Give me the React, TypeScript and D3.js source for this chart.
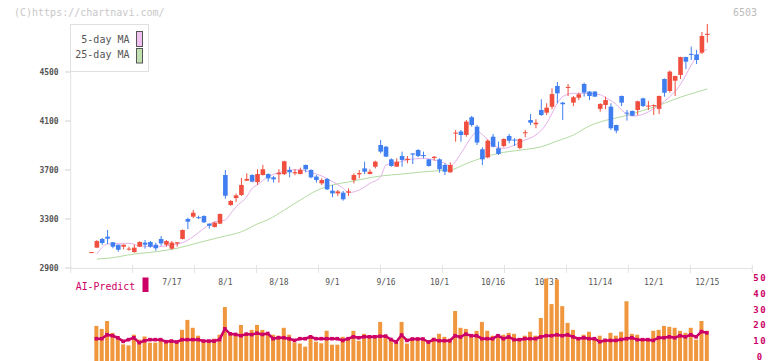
import * as d3 from "d3";

// candles, one per trading day: [open, high, low, close]
const ohlc: [number, number, number, number][] = [
  [3026, 3030, 3026, 3030],
  [3066, 3128, 3066, 3120], [3137, 3145, 3090, 3104], [3156, 3210, 3096, 3139], [3110, 3112, 3061, 3074],
  [3090, 3092, 3033, 3049], [3074, 3092, 3052, 3090], [3052, 3074, 3041, 3058], [3030, 3090, 3025, 3066],
  [3074, 3118, 3072, 3112], [3107, 3128, 3058, 3090], [3112, 3120, 3066, 3074], [3090, 3107, 3041, 3061],
  [3137, 3161, 3082, 3101], [3090, 3128, 3074, 3120], [3058, 3120, 3050, 3107], [3100, 3112, 3074, 3110],
  [3137, 3215, 3133, 3210], [3300, 3311, 3218, 3278], [3319, 3373, 3306, 3351], [3315, 3327, 3300, 3308],
  [3324, 3330, 3268, 3273], [3262, 3264, 3221, 3245], [3235, 3278, 3230, 3270], [3262, 3345, 3260, 3341],
  [3659, 3700, 3466, 3490], [3414, 3455, 3408, 3447], [3471, 3507, 3440, 3493], [3496, 3635, 3488, 3578],
  [3613, 3673, 3610, 3627], [3659, 3665, 3600, 3605], [3601, 3706, 3578, 3667], [3659, 3741, 3655, 3706],
  [3667, 3673, 3605, 3632], [3640, 3651, 3597, 3624], [3665, 3706, 3597, 3678], [3667, 3776, 3659, 3771],
  [3700, 3727, 3640, 3681], [3673, 3708, 3657, 3683], [3667, 3719, 3665, 3700], [3741, 3745, 3681, 3706],
  [3700, 3706, 3632, 3640], [3646, 3659, 3597, 3618], [3591, 3632, 3578, 3618], [3627, 3635, 3537, 3542],
  [3531, 3578, 3477, 3509], [3509, 3537, 3488, 3525], [3515, 3529, 3450, 3461], [3515, 3550, 3488, 3526],
  [3618, 3673, 3591, 3659], [3665, 3700, 3632, 3675], [3713, 3768, 3667, 3686], [3667, 3706, 3665, 3686],
  [3727, 3776, 3713, 3768], [3904, 3945, 3836, 3850], [3890, 3896, 3805, 3809], [3787, 3795, 3727, 3733],
  [3727, 3795, 3727, 3768], [3814, 3850, 3727, 3782], [3782, 3814, 3755, 3792], [3835, 3838, 3749, 3826],
  [3863, 3870, 3805, 3814], [3822, 3850, 3795, 3813], [3787, 3790, 3727, 3733], [3798, 3814, 3776, 3808],
  [3787, 3795, 3678, 3706], [3741, 3755, 3659, 3686], [3681, 3763, 3678, 3741], [3998, 4027, 3931, 4005],
  [4014, 4027, 3931, 3986], [3986, 4108, 3971, 4095], [4131, 4141, 4054, 4067], [4054, 4067, 3904, 3924],
  [3869, 3885, 3741, 3787], [3803, 3951, 3795, 3939], [3972, 3994, 3885, 3890], [3877, 3931, 3822, 3831],
  [3896, 3959, 3885, 3953], [3978, 3994, 3918, 3939], [3948, 3959, 3896, 3941], [3880, 3959, 3869, 3953],
  [4000, 4027, 3967, 4008], [4108, 4157, 4067, 4086], [4073, 4114, 4041, 4086], [4190, 4277, 4141, 4149],
  [4168, 4245, 4149, 4209], [4216, 4367, 4196, 4320], [4386, 4418, 4245, 4326], [4250, 4255, 4108, 4237],
  [4370, 4402, 4304, 4378], [4250, 4304, 4222, 4294], [4290, 4332, 4271, 4318], [4402, 4413, 4299, 4332],
  [4340, 4345, 4271, 4304], [4340, 4345, 4296, 4299], [4199, 4245, 4176, 4239], [4231, 4299, 4196, 4271],
  [4217, 4245, 4027, 4041], [4067, 4070, 4000, 4021], [4304, 4308, 4222, 4250], [4168, 4190, 4103, 4160],
  [4182, 4185, 4141, 4143], [4190, 4266, 4149, 4261], [4285, 4290, 4215, 4222], [4218, 4263, 4190, 4226],
  [4222, 4235, 4149, 4230], [4199, 4308, 4157, 4304], [4443, 4447, 4299, 4331], [4345, 4512, 4331, 4503],
  [4429, 4470, 4304, 4467], [4476, 4625, 4443, 4622], [4622, 4625, 4524, 4584], [4648, 4707, 4598, 4640],
  [4643, 4680, 4565, 4598], [4658, 4827, 4647, 4794], [4803, 4892, 4739, 4812],
];

// volume panel (first day has no bar)
const volume: (number | null)[] = [
  null,
  20, 18.1, 23.1, 15.6, 13.3, 8.3, 7.7, 14.4, 11.3, 13.3, 9.4, 9.4, 11.9, 10.2, 10.8, 9.8,
  17.5, 23.8, 18.8, 13.8, 10.8, 10.8, 11.9, 14.4, 31.9, 15, 14.4, 20.6, 15.5, 17.5, 20.6, 17.5,
  14.5, 14.4, 13.8, 18.8, 14.4, 9.5, 8.8, 6.9, 12.5, 10, 9, 16.9, 8.1, 8.1, 13.1, 11.9,
  16.9, 10.6, 15, 12.5, 12.8, 22.5, 14.4, 11.3, 9.4, 22.5, 8.8, 11.3, 12.5, 10.6, 10, 12.5,
  15, 13.1, 11.9, 29.4, 18.8, 18.1, 13.1, 16.9, 22.5, 16.9, 13.8, 13.4, 14.4, 15.6, 15, 11.2,
  13.8, 16.3, 13.8, 25, 50, 33.8, 49.4, 32.5, 21.9, 17.5, 12.2, 14.4, 16.3, 12.2, 13.8, 11.9,
  15.6, 13.8, 16.3, 35.6, 15, 14.4, 11.2, 11.9, 16.9, 17.5, 20, 19.4, 18.8, 16.9, 15.6, 18.8,
  11.3, 23.1, 16.9,
];

const aiPredict: (number | null)[] = [
  null,
  11.9, 11.9, 14.4, 13.8, 12.5, 10.2, 11.3, 12.5, 9.4, 10.6, 11.3, 11.3, 11.3, 10, 10.4, 9.8,
  11.3, 11.3, 11.3, 11.3, 10.4, 10.4, 10.4, 11.3, 18.1, 15, 14.6, 13.8, 14.8, 14.5, 15.4, 14.6,
  15.2, 11.9, 12.5, 12.5, 11.9, 10.8, 11.9, 11.9, 13.1, 11.9, 11.9, 11.9, 11.9, 11.9, 10.8, 11.9,
  13.1, 12.5, 13.1, 13.1, 13.1, 13.5, 13.5, 11.4, 9.8, 14.2, 10.8, 11.7, 11.7, 11.7, 9.8, 11.3,
  10.6, 10.6, 10.6, 13.8, 13, 14.8, 13.8, 13.8, 11.9, 11.9, 11.9, 13.8, 11.9, 13, 11.3, 11.3,
  11.9, 11.9, 11.9, 13.1, 13.8, 13.8, 14.4, 13.8, 14.4, 13.1, 11.9, 12.5, 11.9, 11.9, 10, 10.8,
  10.8, 10.8, 11.4, 11.9, 12.5, 11.3, 11.3, 11.3, 10.8, 12.5, 12.5, 13.1, 12.5, 13.8, 13.1, 14.4,
  13.1, 16.4, 15.6,
];

// moving averages: [day index, price]
const ma5: [number, number][] = [
  [1, 3014], [3, 3096], [7, 3102], [9, 3080], [12, 3074], [15, 3088], [17, 3107], [19, 3156],
  [21, 3224], [23, 3278], [25, 3292], [26, 3346], [27, 3400], [29, 3482], [30, 3551], [31, 3580],
  [33, 3645], [35, 3678], [37, 3700], [39, 3702], [41, 3680], [43, 3651], [45, 3605], [47, 3551],
  [48, 3515], [50, 3537], [52, 3591], [54, 3645], [55, 3741], [57, 3760], [59, 3782], [62, 3795],
  [64, 3782], [66, 3755], [67, 3733], [69, 3836], [71, 3972], [72, 4015], [73, 3990], [75, 3900],
  [77, 3877], [79, 3904], [81, 3945], [83, 3986], [85, 4081], [86, 4163], [87, 4245], [88, 4299],
  [90, 4326], [92, 4326], [95, 4315], [96, 4290], [98, 4235], [99, 4190], [101, 4140], [103, 4155],
  [106, 4231], [108, 4299], [110, 4400], [111, 4476], [112, 4557], [113, 4625], [115, 4685],
];

const ma25: [number, number][] = [
  [1, 2973], [3, 2979], [8, 3014], [12, 3033], [16, 3061], [20, 3107], [24, 3151], [28, 3196],
  [31, 3260], [33, 3295], [36, 3373], [39, 3455], [42, 3531], [45, 3578], [48, 3602], [51, 3629],
  [54, 3651], [58, 3667], [61, 3681], [64, 3692], [67, 3700], [70, 3752], [73, 3800], [76, 3836],
  [80, 3862], [84, 3890], [87, 3937], [90, 3986], [93, 4060], [96, 4105], [99, 4135], [102, 4172],
  [104, 4200], [107, 4245], [110, 4295], [113, 4335], [115, 4362],
];

const priceTicks = [2900, 3300, 3700, 4100, 4500];
const volumeTicks = [0, 10, 20, 30, 40, 50];
const dateLabels: [number, string][] = [
  [15, "7/17"], [25, "8/1"], [35, "8/18"], [45, "9/1"], [55, "9/16"], [65, "10/1"],
  [75, "10/16"], [85, "10/31"], [95, "11/14"], [105, "12/1"], [115, "12/15"],
];

const MONO = "'DejaVu Sans Mono', monospace";
const UP = "#f04e3e";
const DOWN = "#3f7ef0";
const PINK = "#cc0066";

export default function App() {
  const x = d3.scaleLinear().domain([0, ohlc.length - 1]).range([91.5, 707.3]);
  const y = d3.scaleLinear().domain([2900, 4500]).range([268, 72]);
  const vy = d3.scaleLinear().domain([0, 50]).range([357.5, 278.5]);
  // the axis frame is split into 11 equal parts
  const frame = d3.scaleLinear().domain([0, 11]).range([70.7, 752.3]);

  const maLine = d3
    .line<[number, number]>()
    .curve(d3.curveMonotoneX)
    .x((d) => x(d[0]))
    .y((d) => y(d[1]));

  const aiLine = d3
    .line<number | null>()
    .defined((d) => d != null)
    .x((_, i) => x(i) - 0.5)
    .y((d) => vy(d as number));

  const bodyW = 4.6;

  return (
    <svg
      width={772}
      height={361}
      style={{ position: "absolute", left: 0, top: 0, background: "#fff" }}
      fontFamily={MONO}
    >
      <text x={14} y={16} fontSize={10} fill="#c8c8c8">
        (C)https://chartnavi.com/
      </text>
      <text x={757} y={16} fontSize={10} fill="#bbb" textAnchor="end">
        6503
      </text>

      {/* axes */}
      <line x1={frame(0)} x2={frame(0)} y1={24} y2={y(2900)} stroke="#e2e2e2" />
      <line x1={frame(0)} x2={frame(11)} y1={y(2900) + 0.5} y2={y(2900) + 0.5} stroke="#e2e2e2" />
      {d3.range(12).map((k) => (
        <line key={k} x1={frame(k)} x2={frame(k)} y1={265} y2={273} stroke="#e2e2e2" />
      ))}
      {priceTicks.map((p) => (
        <g key={p}>
          <line x1={65} x2={frame(0)} y1={y(p)} y2={y(p)} stroke="#d0d0d0" />
          <text x={58.7} y={y(p) + 3} fontSize={8} fontWeight="bold" fill="#555" textAnchor="end">
            {p}
          </text>
        </g>
      ))}
      {dateLabels.map(([i, s]) => (
        <text key={s} x={x(i)} y={284.5} fontSize={8} fill="#555" textAnchor="middle">
          {s}
        </text>
      ))}

      {/* moving averages */}
      <path d={maLine(ma25) ?? ""} fill="none" stroke="#b2dba0" strokeWidth={1} />
      <path d={maLine(ma5) ?? ""} fill="none" stroke="#e6b0ea" strokeWidth={1} />

      {/* candles */}
      {ohlc.map(([o, h, l, c], i) => {
        const col = c >= o ? UP : DOWN;
        const top = y(Math.max(o, c));
        const bh = Math.max(1, y(Math.min(o, c)) - top);
        return (
          <g key={i}>
            <line x1={x(i)} x2={x(i)} y1={y(h)} y2={y(l)} stroke={col} strokeWidth={1} />
            <rect x={x(i) - bodyW / 2} y={top} width={bodyW} height={bh} fill={col} />
          </g>
        );
      })}

      {/* volume */}
      {volume.map((v, i) =>
        v == null ? null : (
          <rect key={i} x={x(i) - 2.5} y={vy(v)} width={4} height={vy(0) - vy(v) + 4} fill="#f0963c" />
        )
      )}
      <path d={aiLine(aiPredict) ?? ""} fill="none" stroke={PINK} strokeWidth={2.5} strokeLinejoin="round" />
      {aiPredict.map((v, i) =>
        v == null ? null : (
          <rect key={i} x={x(i) - 2.3} y={vy(v) - 1.8} width={3.6} height={3.6} fill={PINK} />
        )
      )}
      {volumeTicks.map((t) => (
        <text
          key={t}
          x={759.5}
          y={vy(t) + 2.5}
          fontSize={9}
          fontWeight="bold"
          textAnchor="middle"
          fill={PINK}
          textLength={String(t).length > 1 ? 12.5 : undefined}
          lengthAdjust="spacing"
        >
          {t}
        </text>
      ))}
      <text x={75.7} y={290} fontSize={11} fill={PINK} textLength={59.5} lengthAdjust="spacingAndGlyphs">
        AI-Predict
      </text>
      <rect x={142.5} y={277.5} width={6} height={14.5} fill={PINK} />

      {/* legend */}
      <rect x={70.5} y={24.5} width={78} height={47} fill="#fff" stroke="#e0e0e0" />
      <text x={129.5} y={42.5} fontSize={10} fill="#555" textAnchor="end">
        5-day MA
      </text>
      <text x={129.5} y={57.5} fontSize={10} fill="#555" textAnchor="end">
        25-day MA
      </text>
      <rect x={136.5} y={31.5} width={6} height={15} fill="#f0c0f0" stroke="#555" />
      <rect x={136.5} y={48.5} width={6} height={14.5} fill="#c0e0b0" stroke="#555" />
    </svg>
  );
}
